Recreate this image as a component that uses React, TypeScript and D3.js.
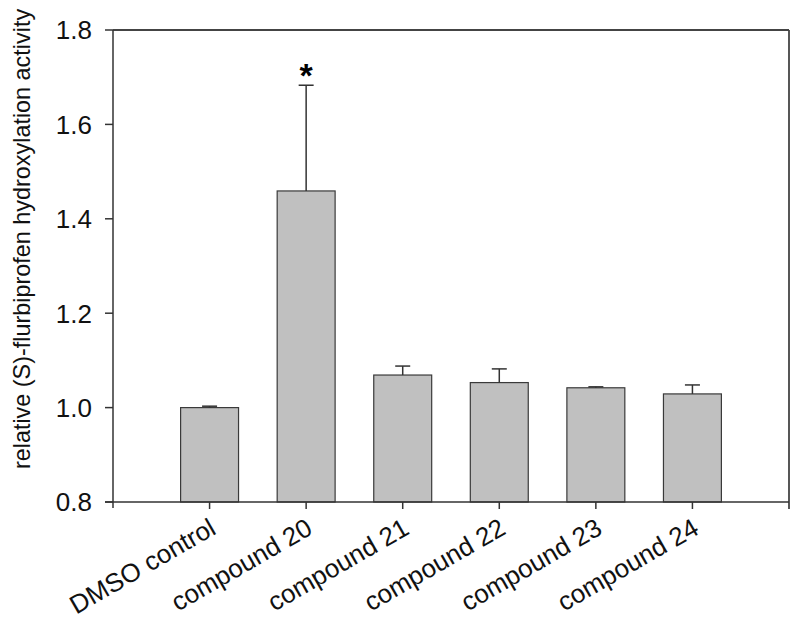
import * as d3 from "d3";
import React from "react";

const categories = [
  "DMSO control",
  "compound 20",
  "compound 21",
  "compound 22",
  "compound 23",
  "compound 24",
];
const means = [1.0, 1.459, 1.069, 1.053, 1.042, 1.029];
const errorTops = [1.003, 1.683, 1.088, 1.082, 1.044, 1.048];
const significant = [false, true, false, false, false, false];
const yTicks = [0.8, 1.0, 1.2, 1.4, 1.6, 1.8];

const width = 800;
const height = 625;
const left = 113;
const right = 789;
const top = 30;
const bottom = 502;

const x = d3.scalePoint<string>().domain(categories).range([left, right]).padding(1);
const y = d3.scaleLinear().domain([0.8, 1.8]).range([bottom, top]);
const barW = x.step() * 0.6;
const capW = 15;
const lineColor = "#333";
const font = "Arial, 'Liberation Sans', sans-serif";

const App = () => (
  <svg
    width={width}
    height={height}
    style={{ position: "absolute", left: 0, top: 0, background: "#fff" }}
    fontFamily={font}
  >
    {/* bars */}
    {categories.map((c, i) => (
      <rect
        key={c}
        x={x(c)! - barW / 2}
        y={y(means[i])}
        width={barW}
        height={y(0.8) - y(means[i])}
        fill="#c0c0c0"
        stroke="#3a3a3a"
        strokeWidth={1.2}
      />
    ))}
    {/* error bars, upper only */}
    {categories.map((c, i) => (
      <g key={c} stroke={lineColor} strokeWidth={1.5}>
        <line x1={x(c)} x2={x(c)} y1={y(means[i])} y2={y(errorTops[i])} />
        <line x1={x(c)! - capW / 2} x2={x(c)! + capW / 2} y1={y(errorTops[i])} y2={y(errorTops[i])} />
      </g>
    ))}
    {categories.map((c, i) =>
      significant[i] ? (
        <text key={c} x={x(c)} y={y(errorTops[i]) + 2} textAnchor="middle" fontSize={34} fontWeight="bold">
          *
        </text>
      ) : null
    )}
    {/* frame */}
    <line x1={left} x2={right} y1={top} y2={top} stroke="#444" strokeWidth={1.8} />
    <line x1={right} x2={right} y1={top} y2={bottom + 7} stroke="#444" strokeWidth={1.8} />
    <line x1={left} x2={left} y1={top} y2={bottom + 6} stroke={lineColor} strokeWidth={1.5} />
    <line x1={left - 8} x2={right} y1={bottom} y2={bottom} stroke={lineColor} strokeWidth={1.5} />
    {/* y ticks */}
    {yTicks.map((t) => (
      <g key={t}>
        <line x1={left - 8} x2={left} y1={y(t)} y2={y(t)} stroke={lineColor} strokeWidth={1.5} />
        <text x={left - 21} y={y(t)} dy="0.36em" textAnchor="end" fontSize={26} fill="#111">
          {d3.format(".1f")(t)}
        </text>
      </g>
    ))}
    {/* x ticks and labels */}
    {categories.map((c) => (
      <g key={c}>
        <line x1={x(c)} x2={x(c)} y1={bottom} y2={bottom + 7} stroke={lineColor} strokeWidth={1.5} />
        <text
          transform={`translate(${x(c)! + 8},${bottom + 31}) rotate(-30)`}
          textAnchor="end"
          fontSize={26}
          fill="#111"
        >
          {c}
        </text>
      </g>
    ))}
    <text
      transform={`translate(30,239) rotate(-90)`}
      textAnchor="middle"
      fontSize={23.4}
      fill="#111"
    >
      relative (S)-flurbiprofen hydroxylation activity
    </text>
  </svg>
);

export default App;
